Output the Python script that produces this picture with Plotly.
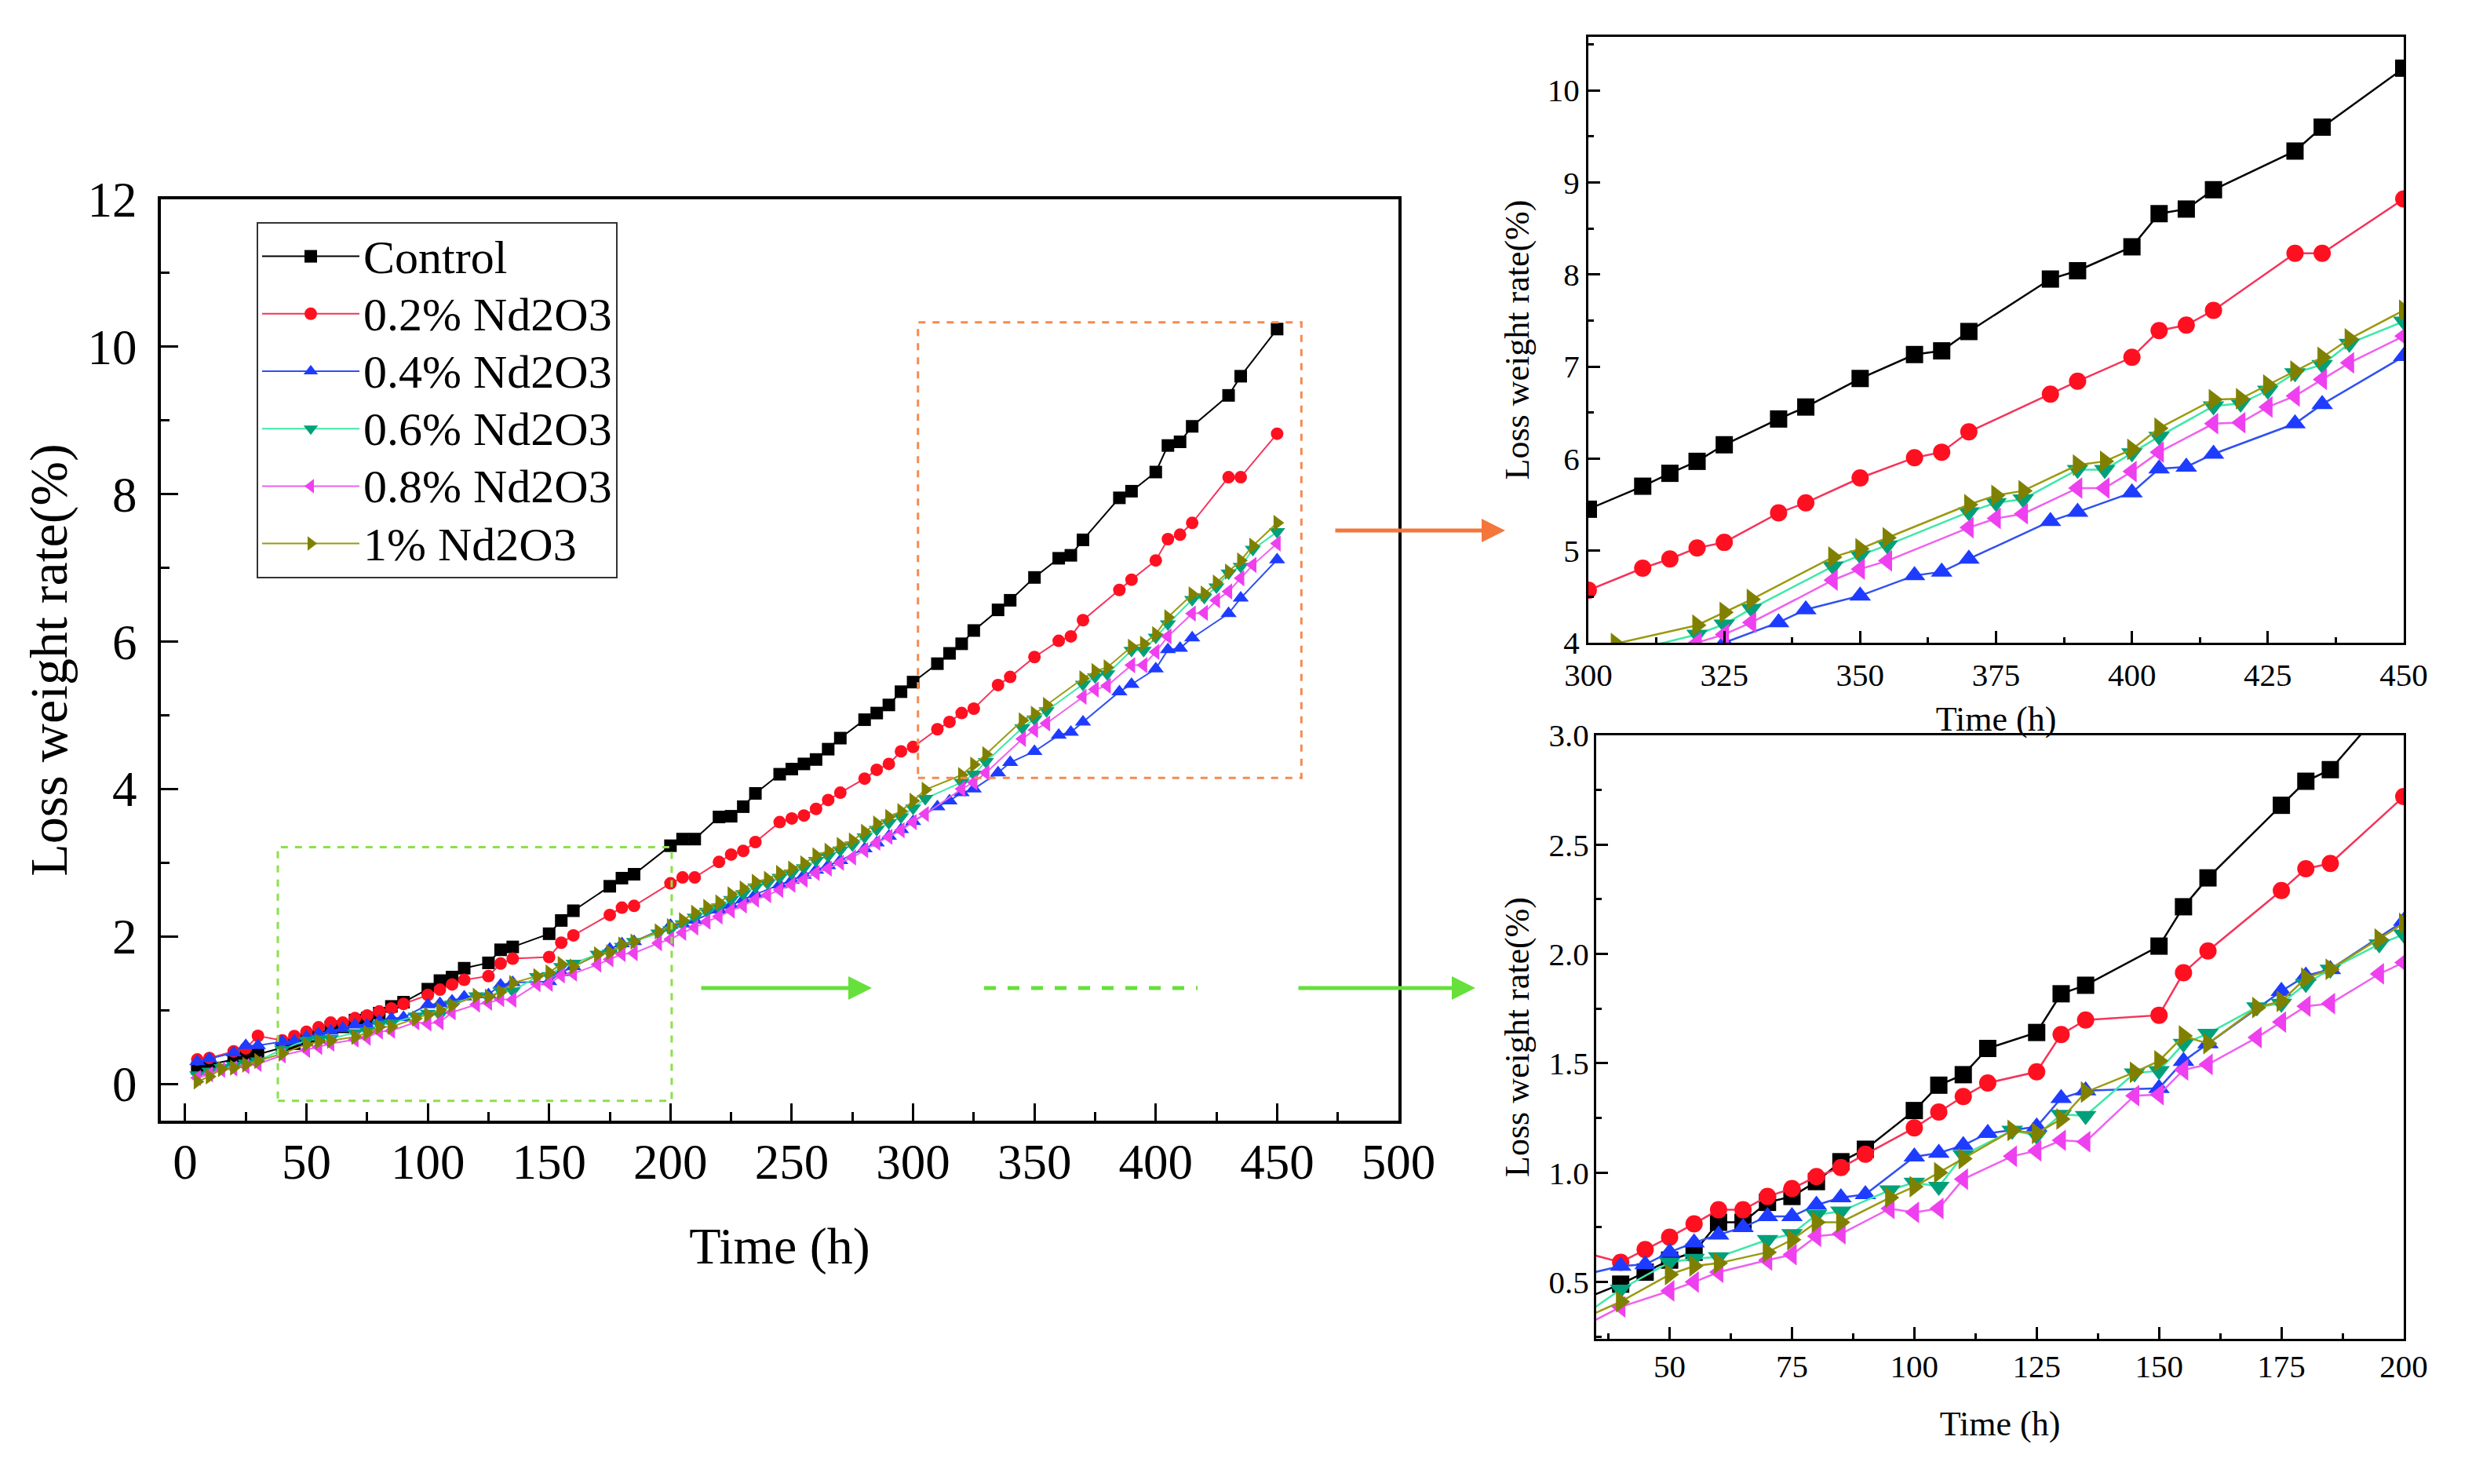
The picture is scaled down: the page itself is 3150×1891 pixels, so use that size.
import plotly.graph_objects as go

# sampling times (h) for Control / 0.2% / 0.4% and for 0.6% / 0.8% / 1%
x_a = [5, 10, 20, 25, 30, 40, 45, 50, 55, 60, 65, 70, 75, 80, 85, 90,
       100, 105, 110, 115, 125, 130, 135, 150, 155, 160, 175, 180, 185,
       200, 205, 210, 220, 225, 230, 235, 245, 250, 255, 260, 265, 270,
       280, 285, 290, 295, 300, 310, 315, 320, 325, 335, 340, 350,
       360, 365, 370, 385, 390, 400, 405, 410, 415, 430, 435, 450]
x_b = [5, 10, 15, 20, 25, 30, 40, 50, 55, 60, 70, 75, 80, 85,
       95, 100, 105, 110, 120, 125, 130, 135, 145, 150, 155, 160,
       170, 175, 180, 185, 195, 200, 205, 210, 215, 220, 225, 230, 235,
       240, 245, 250, 255, 260, 265, 270, 275, 280, 285, 290, 295, 300,
       305, 320, 325, 330, 345, 350, 355, 370, 375, 380, 390, 395, 400,
       405, 415, 420, 425, 430, 435, 440, 450]

control = [0.21, 0.26, 0.33, 0.37, 0.40,
           0.49, 0.545, 0.60, 0.636, 0.773, 0.773, 0.864, 0.891, 0.959, 1.05, 1.107,
           1.284, 1.40, 1.448, 1.568, 1.641, 1.818, 1.857, 2.036, 2.216, 2.348,
           2.68, 2.79, 2.843, 3.23, 3.32, 3.32, 3.62, 3.63, 3.76, 3.94,
           4.20, 4.27, 4.34, 4.40, 4.54, 4.69, 4.94, 5.03, 5.14, 5.32, 5.45,
           5.70, 5.84, 5.97, 6.15, 6.43, 6.56, 6.87, 7.13, 7.17, 7.38,
           7.95, 8.04, 8.30, 8.66, 8.71, 8.92, 9.34, 9.60, 10.24]
nd02 = [0.33, 0.35, 0.44, 0.48, 0.65,
        0.59, 0.648, 0.705, 0.766, 0.83, 0.83, 0.891, 0.927, 0.982, 1.023, 1.084,
        1.205, 1.277, 1.348, 1.41, 1.461, 1.632, 1.698, 1.72, 1.914, 2.014,
        2.29, 2.39, 2.414, 2.72, 2.80, 2.80, 3.01, 3.11, 3.16, 3.28,
        3.55, 3.60, 3.64, 3.73, 3.85, 3.95, 4.14, 4.26, 4.34, 4.51, 4.57,
        4.81, 4.91, 5.03, 5.09, 5.41, 5.52, 5.79, 6.01, 6.07, 6.29,
        6.70, 6.84, 7.10, 7.39, 7.45, 7.61, 8.23, 8.23, 8.82]
nd04 = [0.30, 0.34, 0.42, 0.52, 0.52,
        0.573, 0.58, 0.636, 0.68, 0.716, 0.75, 0.80, 0.80, 0.852, 0.886, 0.90,
        1.073, 1.09, 1.125, 1.18, 1.21, 1.34, 1.375, 1.386, 1.51, 1.59,
        1.83, 1.90, 1.93, 2.15, 2.17, 2.22, 2.36, 2.42, 2.50, 2.57,
        2.70, 2.76, 2.83, 2.90, 2.96, 3.03, 3.19, 3.27, 3.36, 3.45, 3.56,
        3.76, 3.84, 3.95, 4.00, 4.22, 4.36, 4.51, 4.73, 4.77, 4.91,
        5.32, 5.42, 5.63, 5.89, 5.91, 6.05, 6.38, 6.59, 7.11]
nd06 = [0.12, 0.17, 0.22, 0.25, 0.28, 0.31, 0.466,
        0.59, 0.607, 0.614, 0.693, 0.72, 0.807, 0.823,
        0.92, 0.955, 0.936, 1.08, 1.193, 1.17, 1.266, 1.26,
        1.455, 1.466, 1.59, 1.636, 1.757, 1.773, 1.864, 1.93,
        2.045, 2.09, 2.17, 2.26, 2.34, 2.40, 2.50, 2.58, 2.67, 2.72, 2.80,
        2.86, 2.93, 3.03, 3.09, 3.17, 3.24, 3.35, 3.45, 3.54, 3.62, 3.74, 3.87,
        4.09, 4.20, 4.37, 4.83, 4.95, 5.06, 5.42, 5.52, 5.56,
        5.88, 5.88, 6.06, 6.24, 6.57, 6.60, 6.74, 6.93, 7.02, 7.25, 7.49]
nd08 = [0.08, 0.13, 0.19, 0.21, 0.24, 0.27, 0.386,
        0.459, 0.50, 0.545, 0.60, 0.625, 0.709, 0.72,
        0.836, 0.818, 0.836, 0.97, 1.075, 1.10, 1.148, 1.141,
        1.352, 1.357, 1.47, 1.495, 1.618, 1.689, 1.761, 1.773,
        1.909, 1.961, 2.05, 2.12, 2.20, 2.27, 2.35, 2.42, 2.50, 2.56, 2.63,
        2.70, 2.77, 2.86, 2.92, 3.00, 3.07, 3.17, 3.27, 3.35, 3.44, 3.55, 3.66,
        4.00, 4.09, 4.22, 4.68, 4.80, 4.89, 5.25, 5.35, 5.40,
        5.68, 5.68, 5.86, 6.07, 6.38, 6.39, 6.56, 6.68, 6.86, 7.04, 7.33]
nd10 = [0.03, 0.10, 0.20, 0.22, 0.26, 0.31, 0.41,
        0.534, 0.573, 0.586, 0.636, 0.693, 0.773, 0.773,
        0.886, 0.936, 1.0, 1.064, 1.193, 1.18, 1.245, 1.368,
        1.459, 1.511, 1.625, 1.59, 1.755, 1.784, 1.89, 1.93,
        2.068, 2.14, 2.22, 2.32, 2.40, 2.46, 2.57, 2.65, 2.74, 2.78, 2.86,
        2.92, 2.99, 3.10, 3.16, 3.24, 3.30, 3.42, 3.53, 3.62, 3.70, 3.84, 3.99,
        4.19, 4.33, 4.47, 4.93, 5.02, 5.14, 5.50, 5.60, 5.65,
        5.93, 5.97, 6.10, 6.33, 6.64, 6.65, 6.80, 6.95, 7.10, 7.30, 7.61]

series = [
    ("Control", x_a, control, "#000000", "#000000", "square", 16),
    ("0.2% Nd2O3", x_a, nd02, "#F5335A", "#FF1020", "circle", 16),
    ("0.4% Nd2O3", x_a, nd04, "#3050F0", "#1E3CFF", "triangle-up", 18),
    ("0.6% Nd2O3", x_b, nd06, "#3EE8A8", "#00A07A", "triangle-down", 18),
    ("0.8% Nd2O3", x_b, nd08, "#F060F0", "#EE40EE", "triangle-left", 18),
    ("1% Nd2O3", x_b, nd10, "#9A9A10", "#808000", "triangle-right", 18),
]

# the page body has an 8px margin, so the figure is drawn 8px in from the corner
OFF = 8
W, H = 3150 - 2 * OFF, 1891 - 2 * OFF


def px(x):
    return (x - OFF) / W


def py(y):
    return 1 - (y - OFF) / H


fig = go.Figure()
for name, xs, ys, lc, mc, sym, ms in series:
    fig.add_trace(go.Scatter(x=xs, y=ys, mode="lines+markers",
                             name='<span style="font-size:60px">%s</span>' % name,
                             line=dict(color=lc, width=2),
                             marker=dict(color=mc, symbol=sym, size=ms),
                             xaxis="x", yaxis="y"))
    for xa, ya in (("x2", "y2"), ("x3", "y3")):
        fig.add_trace(go.Scatter(x=xs, y=ys, name=name, mode="lines+markers",
                                 line=dict(color=lc, width=2.5),
                                 marker=dict(color=mc, symbol=sym, size=ms + 6),
                                 xaxis=xa, yaxis=ya, showlegend=False))

FONT = "Liberation Serif"


def ax_style(size, title, tsize, tlen, mlen, lw, standoff, **kw):
    d = dict(showline=True, linecolor="black", linewidth=lw, mirror=True,
             showgrid=False, zeroline=False, ticks="inside", ticklen=tlen,
             tickwidth=3, tickcolor="black", automargin=False,
             tickfont=dict(family=FONT, size=size, color="black"),
             title=dict(text=title, font=dict(family=FONT, size=tsize, color="black"),
                        standoff=standoff))
    d["minor"] = dict(ticks="inside", ticklen=mlen, tickwidth=3, tickcolor="black",
                      dtick=kw.pop("mdtick"), tick0=kw.pop("mtick0", 0))
    d.update(kw)
    return d


layout = go.Layout(
    width=W, height=H, margin=dict(l=0, r=0, t=0, b=0),
    paper_bgcolor="white", plot_bgcolor="white",
    font=dict(family=FONT, color="black"),
    xaxis=ax_style(63, "Time (h)", 66, 22, 11, 4, 50, domain=[px(205), px(1782)],
                   range=[-10, 500], tick0=0, dtick=50, mdtick=25, anchor="y",
                   ticklabelstandoff=-6),
    yaxis=ax_style(63, "Loss weight rate(%)", 68, 22, 11, 4, 5,
                   domain=[py(1428), py(254)],
                   range=[-0.5, 12], tick0=0, dtick=2, mdtick=1, anchor="x",
                   ticklabelstandoff=14),
    xaxis2=ax_style(41, "Time (h)", 44, 15, 7, 3, 18, domain=[px(2024), px(3063)],
                    range=[300, 450], tick0=300, dtick=25, mdtick=12.5, mtick0=300,
                    anchor="y2", ticklabelstandoff=3),
    yaxis2=ax_style(41, "Loss weight rate(%)", 44, 15, 7, 3, 10,
                    domain=[py(819), py(47)],
                    range=[4, 10.58], tick0=4, dtick=1, mdtick=0.5, anchor="x2",
                    ticklabelstandoff=0),
    xaxis3=ax_style(41, "Time (h)", 44, 15, 7, 3, 35, domain=[px(2034), px(3063)],
                    range=[35, 200], tick0=0, dtick=25, mdtick=12.5, anchor="y3",
                    ticklabelstandoff=-3),
    yaxis3=ax_style(41, "Loss weight rate(%)", 44, 15, 7, 3, 12,
                    domain=[py(1706), py(937)],
                    range=[0.24, 3.0], tick0=0, dtick=0.5, mdtick=0.25, anchor="x3",
                    tickformat=".1f", ticklabelstandoff=-2),
    legend=dict(x=px(327), y=py(283), xanchor="left", yanchor="top",
                bgcolor="white", bordercolor="#333333", borderwidth=2,
                font=dict(family=FONT, size=54, color="black"),
                itemwidth=124, tracegroupgap=0),
    showlegend=True,
)

fig = go.Figure(data=fig.data, layout=layout)

# zoom frames on the main plot
fig.add_shape(type="rect", xref="x", yref="y", x0=302, x1=460, y0=4.15, y1=10.33,
              line=dict(color="#F58A50", width=3, dash="dash"))
fig.add_shape(type="rect", xref="x", yref="y", x0=38.2, x1=200.5, y0=-0.23, y1=3.21,
              line=dict(color="#8BE04B", width=3, dash="dash"))
fig.add_shape(type="line", xref="paper", yref="paper", x0=px(1254), x1=px(1526),
              y0=py(1259), y1=py(1259), line=dict(color="#66E03A", width=5, dash="dash"))

# arrows towards the insets
for hx, hy, tail, col in ((1918, 676, -218, "#F4763B"),
                          (1111, 1259, -219, "#66E03A"),
                          (1880, 1259, -227, "#66E03A")):
    fig.add_annotation(x=px(hx), y=py(hy), xref="paper", yref="paper", text="",
                       showarrow=True, ax=tail, ay=0, arrowhead=2,
                       arrowsize=1.2, arrowwidth=5, arrowcolor=col)

fig.write_html("out.html")
